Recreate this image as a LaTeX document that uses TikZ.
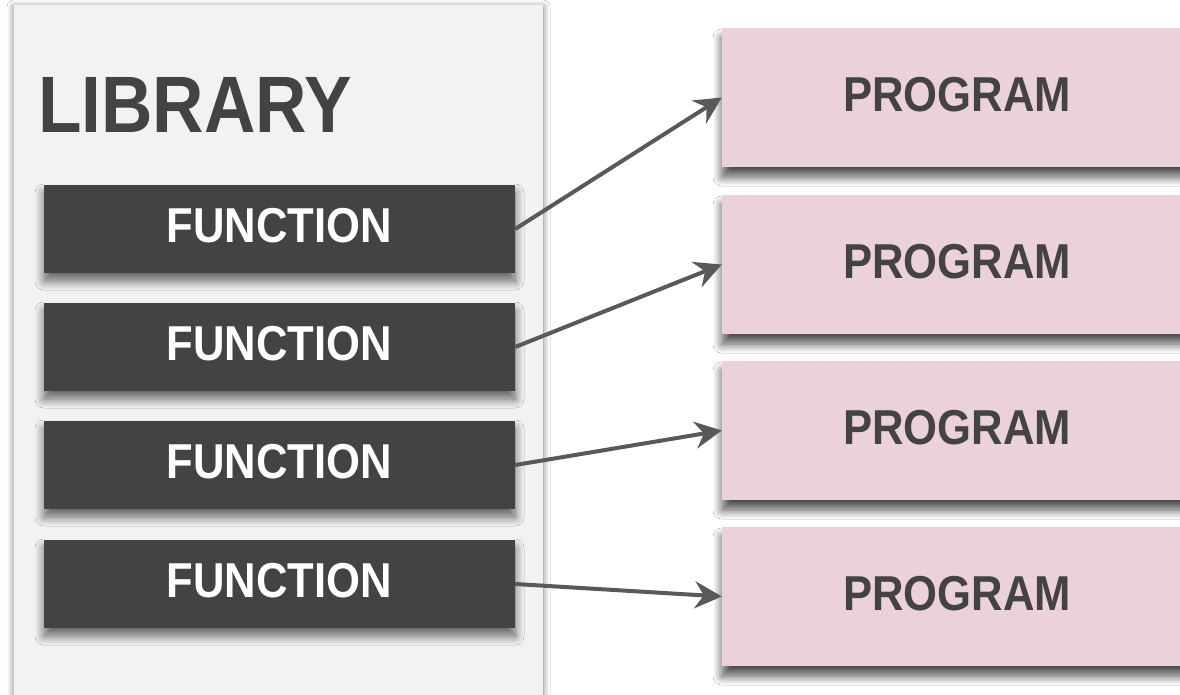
\documentclass[tikz,border=0pt]{standalone}
\usepackage{fontspec}
\newfontfamily\diafont[FakeStretch=0.89]{Liberation Sans}
\usetikzlibrary{arrows.meta,shadows.blur}
\definecolor{libfill}{HTML}{F2F2F2}
\definecolor{funcfill}{HTML}{434343}
\definecolor{progfill}{HTML}{EAD1DC}
\definecolor{txtdark}{HTML}{434343}
\definecolor{arrowcol}{HTML}{595959}
\tikzset{
  libbox/.style={fill=libfill, draw=none, minimum width=529pt, minimum height=690pt, inner sep=0pt,
    blur shadow={shadow xshift=0pt, shadow yshift=-2pt, shadow blur radius=7pt, shadow blur steps=14, shadow opacity=50}},
  funcbox/.style={fill=funcfill, draw=none, minimum width=471pt, minimum height=88pt, inner sep=0pt,
    text=white, font=\diafont\bfseries\fontsize{49}{49}\selectfont, text height=35pt, text depth=8pt,
    blur shadow={shadow xshift=0pt, shadow yshift=-8pt, shadow blur radius=9pt, shadow blur steps=14, shadow opacity=60}},
  progbox/.style={fill=progfill, draw=none, minimum width=470pt, minimum height=139pt, inner sep=0pt,
    text=txtdark, font=\diafont\bfseries\fontsize{49}{49}\selectfont, text height=35pt, text depth=8pt,
    blur shadow={shadow xshift=0pt, shadow yshift=-10pt, shadow blur radius=9pt, shadow blur steps=14, shadow opacity=70}},
  titletext/.style={text=txtdark, font=\diafont\bfseries\fontsize{80}{80}\selectfont, inner sep=0pt},
  conn/.style={draw=arrowcol, line width=4pt, -{Stealth[length=27pt, width=27pt, inset=9pt]}}
}
\begin{document}
\begin{tikzpicture}[x=1pt,y=-1pt]
\useasboundingbox (0,0) rectangle (1180,694);
\fill[white] (0,0) rectangle (1180,694);
% library
\node[libbox] (lib) at (278.5,350) {};
\node[titletext] (libtitle) at (195,104.5) {LIBRARY};
% functions
\node[funcbox] (f1) at (279.5,229) {FUNCTION};
\node[funcbox] (f2) at (279.5,347) {FUNCTION};
\node[funcbox] (f3) at (279.5,465) {FUNCTION};
\node[funcbox] (f4) at (279.5,584) {FUNCTION};
% programs
\node[progbox] (p1) at (957,97.5) {PROGRAM};
\node[progbox] (p2) at (957,264.5) {PROGRAM};
\node[progbox] (p3) at (957,430.5) {PROGRAM};
\node[progbox] (p4) at (957,596.5) {PROGRAM};
% connectors
\draw[conn] (f1.east) -- (p1.west);
\draw[conn] (f2.east) -- (p2.west);
\draw[conn] (f3.east) -- (p3.west);
\draw[conn] (f4.east) -- (p4.west);
\end{tikzpicture}
\end{document}
